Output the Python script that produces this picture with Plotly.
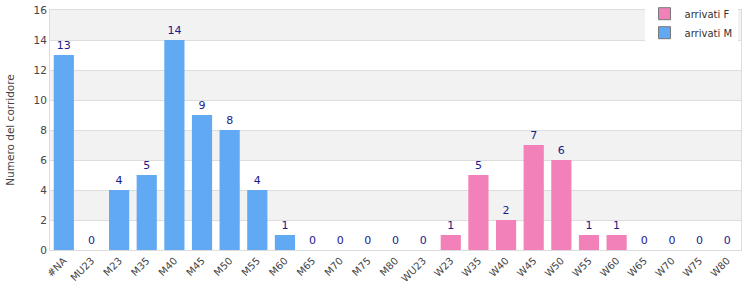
import plotly.graph_objects as go

categories = ["#NA", "MU23", "M23", "M35", "M40", "M45", "M50", "M55", "M60", "M65", "M70", "M75", "M80",
              "WU23", "W23", "W35", "W40", "W45", "W50", "W55", "W60", "W65", "W70", "W75", "W80"]
male_cats = categories[:13]
male_vals = [13, 0, 4, 5, 14, 9, 8, 4, 1, 0, 0, 0, 0]
female_cats = categories[13:]
female_vals = [0, 1, 5, 2, 7, 6, 1, 1, 0, 0, 0, 0]

blue = "#62a9f4"
pink = "#f281b9"
font = "DejaVu Sans"

fig = go.Figure()
fig.add_trace(go.Bar(x=male_cats, y=male_vals, name="arrivati M", marker=dict(color=blue, line=dict(width=0)),
                     text=[str(v) for v in male_vals], textposition="outside", cliponaxis=False,
                     textfont=dict(color="#1a1a8c", size=11, family=font), showlegend=False))
fig.add_trace(go.Bar(x=female_cats, y=female_vals, name="arrivati F", marker=dict(color=pink, line=dict(width=0)),
                     text=[str(v) for v in female_vals], textposition="outside", cliponaxis=False,
                     textfont=dict(color="#1a1a8c", size=11, family=font), showlegend=False))
# legend entries
fig.add_trace(go.Bar(x=[categories[0]], y=[None], name="arrivati F",
                     marker=dict(color=pink, line=dict(color="#777", width=1)), showlegend=True))
fig.add_trace(go.Bar(x=[categories[0]], y=[None], name="arrivati M",
                     marker=dict(color=blue, line=dict(color="#777", width=1)), showlegend=True))

for lo in [2, 6, 10, 14]:
    fig.add_shape(type="rect", xref="paper", yref="y", x0=0, x1=1, y0=lo, y1=lo + 2,
                  fillcolor="#f2f2f2", line=dict(width=0), layer="below")

fig.update_layout(
    width=750, height=300,
    margin=dict(l=50, r=9, t=10, b=50, autoexpand=False),
    paper_bgcolor="white", plot_bgcolor="white",
    barmode="overlay", bargap=0.27,
    font=dict(family=font, size=10, color="#333"),
    legend=dict(x=0.995, y=1.045, xanchor="right", yanchor="top", bgcolor="white",
                font=dict(size=10, color="#333"), traceorder="normal",
                itemwidth=30, tracegroupgap=0),
    xaxis=dict(categoryorder="array", categoryarray=categories, tickangle=-45,
               tickfont=dict(size=10, color="#444"), showline=True, linecolor="#ddd",
               mirror=True, showgrid=False, ticks="", fixedrange=True),
    yaxis=dict(range=[0, 16], dtick=2, showgrid=True, gridcolor="#ddd", showline=True,
               linecolor="#ddd", mirror=True, zeroline=False,
               tickfont=dict(size=10.5, color="#444"),
               title=dict(text="Numero del corridore", font=dict(size=10.5, color="#444"), standoff=16)),
)

fig.write_html("out.html")
